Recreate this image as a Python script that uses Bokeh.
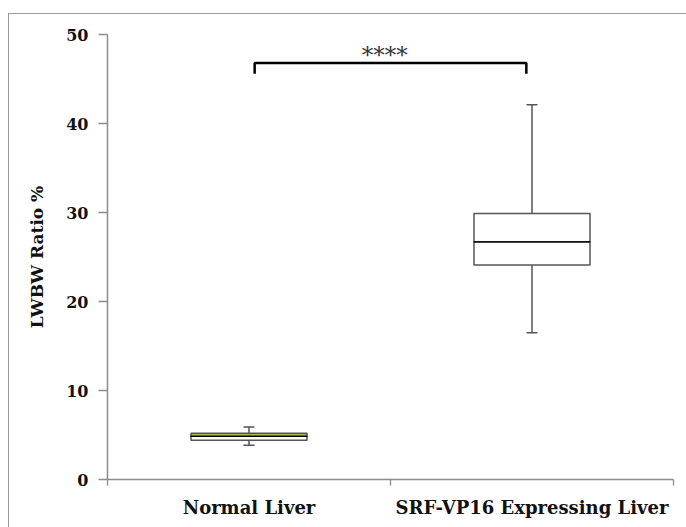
from bokeh.plotting import figure
from bokeh.models import FixedTicker, ColumnDataSource, Range1d
from bokeh.core.properties import value
from bokeh.embed import file_html
from bokeh.resources import INLINE

# data
categories = ["Normal Liver", "SRF-VP16 Expressing Liver"]
positions = [0.5, 1.5]
whisker_low = [3.85, 16.5]
q1 = [4.4, 24.1]
median = [4.85, 26.7]
q3 = [5.2, 29.9]
whisker_high = [5.9, 42.1]
upper_fill = ["#9bbb59", "white"]
y_ticks = [0, 10, 20, 30, 40, 50]
bracket_x = [0.52, 0.52, 1.48, 1.48]
bracket_y = [45.6, 46.8, 46.8, 45.6]
sig_label = "****"
sig_x = [0.98]
sig_y = [46.2]

SERIF = "DejaVu Serif"

p = figure(width=678, height=514, x_range=Range1d(0, 2), y_range=Range1d(0, 50),
           output_backend="svg", toolbar_location=None,
           min_border_left=98, min_border_right=14, min_border_top=20, min_border_bottom=49)
p.margin = (13, 0, 0, 8)
p.styles = {"border-top": "1.5px solid #9a9a9a", "border-left": "1.5px solid #9a9a9a"}
p.outline_line_color = None
p.grid.grid_line_color = None

src = ColumnDataSource(dict(x=positions, wl=whisker_low, q1=q1, med=median, q3=q3,
                            wh=whisker_high, fill=upper_fill))
box_w = 0.41
cap_w = 0.036
# whiskers
p.segment(x0="x", y0="q3", x1="x", y1="wh", source=src, line_color="#555555", line_width=1.5)
p.segment(x0="x", y0="wl", x1="x", y1="q1", source=src, line_color="#555555", line_width=1.5)
p.rect(x="x", y="wh", width=cap_w, height=0.0001, source=src, line_color="#555555", line_width=1.5)
p.rect(x="x", y="wl", width=cap_w, height=0.0001, source=src, line_color="#555555", line_width=1.5)
# boxes
p.vbar(x="x", bottom="q1", top="med", width=box_w, source=src, fill_color="white",
       line_color="#555555", line_width=1.5)
p.vbar(x="x", bottom="med", top="q3", width=box_w, source=src, fill_color="fill",
       line_color="#555555", line_width=1.5)
p.rect(x="x", y="med", width=box_w, height=0.0001, source=src, line_color="black", line_width=1.2)

# significance bracket
p.line(bracket_x, bracket_y, line_color="black", line_width=2.5)
p.text(x=sig_x, y=sig_y, text=[sig_label],
       text_align="center", text_baseline="bottom", text_font=value(SERIF),
       text_font_size="23px", text_color="#333333")

# axes
ax = p.xaxis[0]
ax.ticker = FixedTicker(ticks=positions, minor_ticks=[0, 1, 2])
ax.major_label_overrides = {pos: c for pos, c in zip(positions, categories)}
ax.major_tick_line_color = None
ax.minor_tick_out = 6
ax.minor_tick_in = 0
ax.minor_tick_line_color = "#8c8c8c"
ax.minor_tick_line_width = 1.3
ax.axis_line_color = "#8c8c8c"
ax.axis_line_width = 1.5
ax.major_label_text_font = SERIF
ax.major_label_text_font_style = "bold"
ax.major_label_text_font_size = "18px"
ax.major_label_text_color = "#111111"
ax.major_label_standoff = 11

ay = p.yaxis[0]
ay.ticker = FixedTicker(ticks=y_ticks, minor_ticks=[])
ay.major_tick_out = 9
ay.major_tick_in = 0
ay.major_tick_line_color = "#8c8c8c"
ay.major_tick_line_width = 1.3
ay.axis_line_color = "#8c8c8c"
ay.axis_line_width = 1.5
ay.major_label_text_font = SERIF
ay.major_label_text_font_style = "bold"
ay.major_label_text_font_size = "16px"
ay.major_label_text_color = "#111111"
ay.major_label_standoff = 10
ay.axis_label = "LWBW Ratio %"
ay.axis_label_text_font = SERIF
ay.axis_label_text_font_style = "bold"
ay.axis_label_text_font_size = "17px"
ay.axis_label_text_color = "#111111"
ay.axis_label_standoff = 16

open("out.html", "w").write(file_html(p, INLINE))
